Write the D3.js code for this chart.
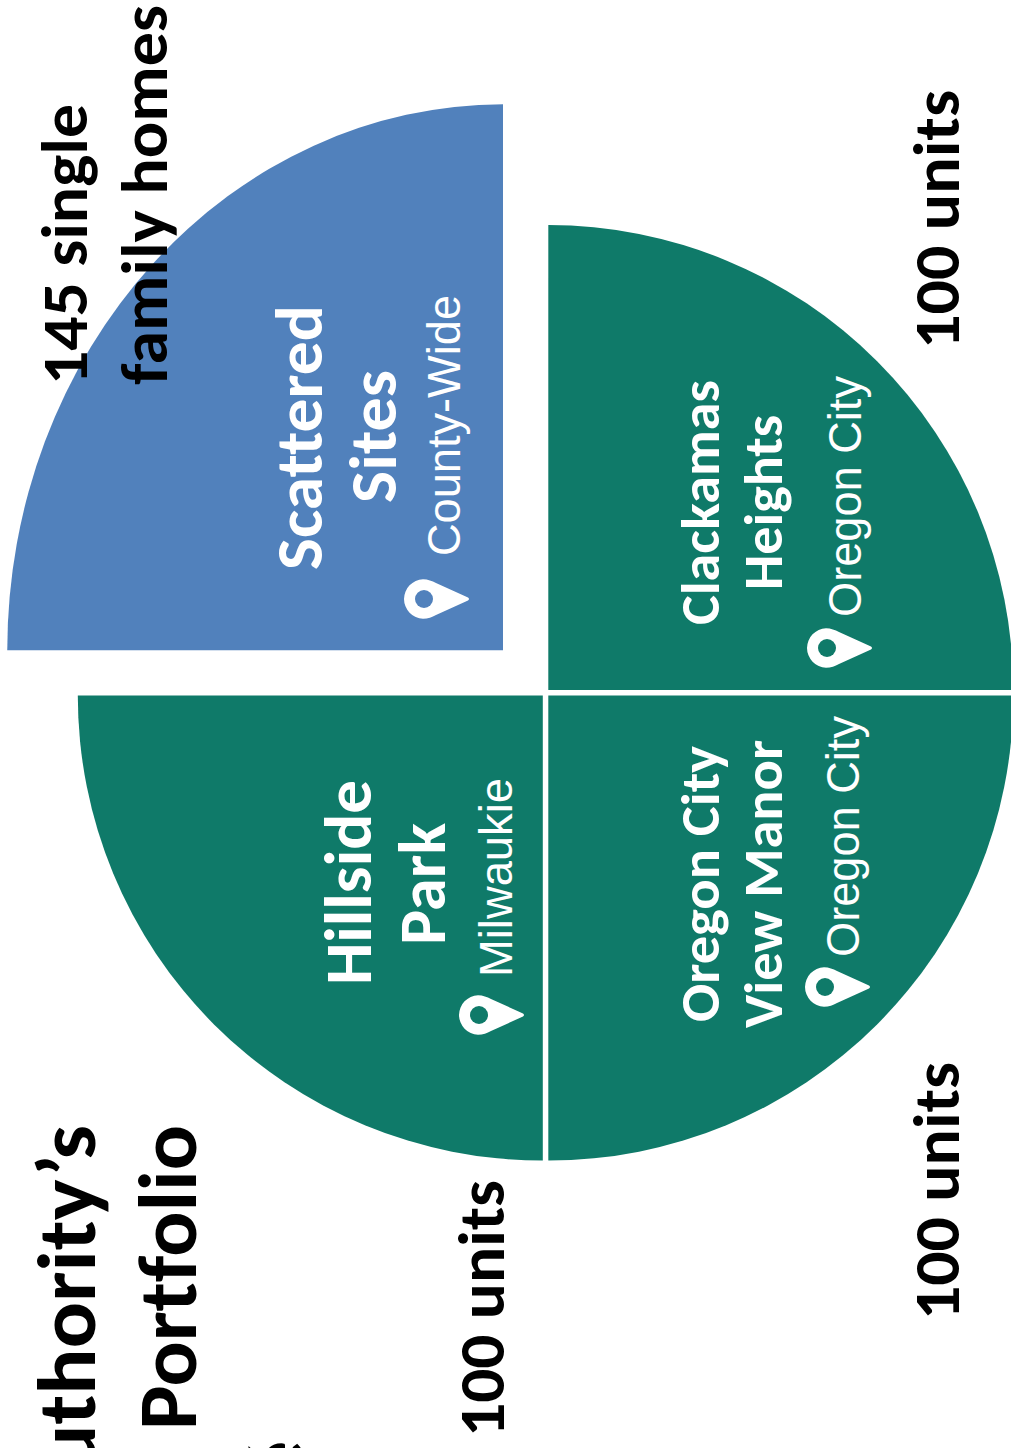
<!DOCTYPE html>
<html>
<head>
<meta charset="utf-8">
<script src="https://cdn.jsdelivr.net/npm/d3@7"></script>
<style>
  html, body { margin: 0; padding: 0; background: #fff; overflow: hidden; }
  svg { display: block; }
  text { font-variant-ligatures: none; }
</style>
</head>
<body>
<script>
// Housing portfolio: one quadrant per property, sized by its unit count.
const properties = ["Scattered Sites", "Clackamas Heights", "Oregon City View Manor", "Hillside Park"];
const units = [145, 100, 100, 100];
const cities = ["County-Wide", "Oregon City", "Oregon City", "Milwaukie"];
const colours = ["#5181bc", "#0f7a69", "#0f7a69", "#0f7a69"];

const W = 1011, H = 1448;
const svg = d3.select("body").append("svg").attr("width", W).attr("height", H);

const radius = d3.scalePow().exponent(0.432).domain([0, 100]).range([0, 465]);

// Each wedge: hub position, start angle, horizontal squash.
const wedges = [
  { cx: 503, cy: 650.3, a0: -Math.PI / 2, sx: 0.908 },
  { cx: 548.3, cy: 690, a0: 0, sx: 1 },
  { cx: 548.3, cy: 695.6, a0: Math.PI / 2, sx: 1 },
  { cx: 542.8, cy: 695.6, a0: Math.PI, sx: 1 }
];

const arc = d3.arc().innerRadius(0);
svg.selectAll("path.wedge").data(units).join("path")
  .attr("class", "wedge")
  .attr("fill", (d, i) => colours[i])
  .attr("transform", (d, i) => `translate(${wedges[i].cx},${wedges[i].cy}) scale(${wedges[i].sx},1)`)
  .attr("d", (d, i) => arc({
    outerRadius: radius(d),
    startAngle: wedges[i].a0,
    endAngle: wedges[i].a0 + Math.PI / 2
  }));

// All lettering runs bottom-to-top.
const BOLD = "Carlito, Lato, 'Open Sans', sans-serif";
const LIGHT = "'Liberation Sans', Arial, sans-serif";
function vtext(str, x, yStart, size, fill, family, weight, length) {
  const t = svg.append("text")
    .attr("transform", `translate(${x},${yStart}) rotate(-90)`)
    .attr("fill", fill)
    .attr("font-family", family)
    .attr("font-weight", weight)
    .attr("font-size", size)
    .text(str);
  if (length) t.attr("textLength", length).attr("lengthAdjust", "spacingAndGlyphs");
}

// Property names, split over two lines inside each wedge.
const [scattered, sites] = properties[0].split(" ");
vtext(scattered, 322, 570, 67, "#fff", BOLD, 700, 265);
vtext(sites, 396, 503, 67, "#fff", BOLD, 700, 133);
vtext("Clackamas", 719, 625, 55, "#fff", BOLD, 700, 245);
vtext("Heights", 782, 590, 55, "#fff", BOLD, 700, 175);
vtext("Oregon City", 719, 1022, 55, "#fff", BOLD, 700, 276);
vtext("View Manor", 782, 1028, 55, "#fff", BOLD, 700, 288);
vtext("Hillside", 371, 985, 66, "#fff", BOLD, 700, 205);
vtext("Park", 445, 945, 66, "#fff", BOLD, 700, 122);

// City captions.
vtext(cities[0], 460, 556, 47, "#fff", LIGHT, 400, 261);
vtext(cities[1], 861, 617, 47, "#fff", LIGHT, 400, 241);
vtext(cities[2], 859, 957, 47, "#fff", LIGHT, 400, 241);
vtext(cities[3], 512, 977, 47, "#fff", LIGHT, 400, 199);

// Unit counts around the outside.
vtext(`${units[1]} units`, 959, 349, 64, "#000", BOLD, 700, 259);
vtext(`${units[2]} units`, 959, 1320, 64, "#000", BOLD, 700, 258);
vtext(`${units[3]} units`, 504, 1437, 64, "#000", BOLD, 700, 257);
vtext(`${units[0]} single`, 87, 385, 64, "#000", BOLD, 700, 281);
vtext("family homes", 167, 385, 64, "#000", BOLD, 700, 380);

// Heading, running off the lower edge of the page.
vtext("Authority\u2019s", 95, 1523, 82, "#000", BOLD, 700, 398);
vtext("Portfolio", 196, 1430, 82, "#000", BOLD, 700, 305);
svg.append("text")
  .attr("transform", "translate(303,1441) rotate(-90)")
  .attr("text-anchor", "end")
  .attr("fill", "#000")
  .attr("font-family", BOLD)
  .attr("font-weight", 700)
  .attr("font-size", 78)
  .text("\u00e9");

// Location pins, teardrop pointing along +x.
const pins = [[424, 599], [479, 1015], [827, 648], [825, 987]];
const pinPath = "M-20,0 A20,20 0 0 1 -1,-19.8 C4,-19.8 8,-18 12,-16 L44,-1.5 Q46,0 44,1.5 L12,16 C8,18 4,19.8 -1,19.8 A20,20 0 0 1 -20,0 Z";
svg.selectAll("g.pin").data(pins).join("g")
  .attr("class", "pin")
  .attr("transform", d => `translate(${d[0]},${d[1]})`)
  .each(function (d, i) {
    const g = d3.select(this);
    g.append("path").attr("d", pinPath).attr("fill", "#fff");
    g.append("circle").attr("r", 9).attr("fill", i === 0 ? colours[0] : colours[1]);
  });
</script>
</body>
</html>
